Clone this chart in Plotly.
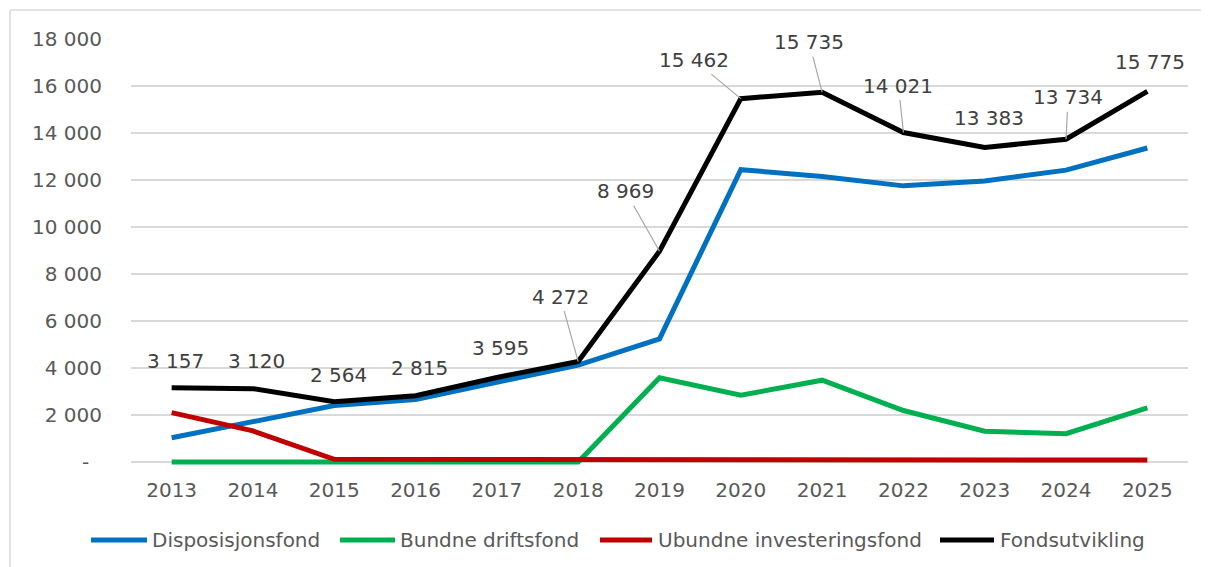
import plotly.graph_objects as go

years = ["2013", "2014", "2015", "2016", "2017", "2018", "2019",
         "2020", "2021", "2022", "2023", "2024", "2025"]
disposisjonsfond = [1030, 1730, 2400, 2660, 3400, 4120, 5240,
                    12440, 12150, 11750, 11960, 12420, 13360]
bundne_driftsfond = [0, 0, 0, 0, 0, 0, 3580, 2840, 3480, 2190, 1310, 1200, 2300]
ubundne_investeringsfond = [2100, 1320, 110, 110, 110, 110, 110, 110, 90, 80, 80, 80, 80]
fondsutvikling = [3157, 3120, 2564, 2815, 3595, 4272, 8969,
                  15462, 15735, 14021, 13383, 13734, 15775]

series_names = ["Disposisjonsfond", "Bundne driftsfond",
                "Ubundne investeringsfond", "Fondsutvikling"]
series_values = [disposisjonsfond, bundne_driftsfond,
                 ubundne_investeringsfond, fondsutvikling]
colors = ["#0070C0", "#00B050", "#C00000", "#000000"]

ytick_vals = list(range(0, 18001, 2000))
ytick_text = ["-\u00a0\u00a0"] + [f"{v // 1000} 000" for v in ytick_vals[1:]]

# label offsets (pixels, text centre relative to point) and leader-line flags
label_dx = [4, 4, 4, 4, 4, -18, -34, -47, -13, -5, 4, 2, 3]
label_dy = [-27, -28, -27, -28, -29, -65, -60, -39, -50, -47, -29, -42, -29]
label_leader = [False, False, False, False, False, True, True, True, True, True, False, True, False]

FONT = "DejaVu Sans"
FS = 20
OFF = 8  # page body margin
Y_MIN, Y_MAX = -300, 18000
W, H = 1209 - OFF, 567 - OFF
L, T = 131 - OFF, 39 - OFF
PW = 1057
PH = 423 * (Y_MAX - Y_MIN) / Y_MAX
R, B = W - L - PW, H - T - PH

def px_x(px):
    return (px - OFF - L) / PW

def px_y(py):
    return (T + PH - (py - OFF)) / PH

fig = go.Figure()
for name, vals, col in zip(series_names, series_values, colors):
    fig.add_trace(go.Scatter(
        x=years, y=vals, mode="lines", name=name,
        line=dict(color=col, width=5), showlegend=False,
    ))

annotations = []
for i, (v, dx, dy, lead) in enumerate(zip(fondsutvikling, label_dx, label_dy, label_leader)):
    txt = f"{v:,}".replace(",", " ")
    if lead:
        annotations.append(dict(
            x=i, y=v, xref="x", yref="y", text=txt, showarrow=True,
            ax=dx, ay=dy, arrowhead=0, arrowwidth=1.2, arrowcolor="#a6a6a6",
            standoff=0, borderpad=2,
            font=dict(family=FONT, size=FS, color="#404040"),
        ))
    else:
        annotations.append(dict(
            x=i, y=v, xref="x", yref="y", text=txt, showarrow=False,
            xshift=dx, yshift=-dy,
            font=dict(family=FONT, size=FS, color="#404040"),
        ))

# custom legend
legend_sym = [(91, 147), (340, 395), (600, 652), (940, 994)]
legend_txt_x = [150, 398, 656, 998]
legend_y = 540
shapes = []
for (x0, x1), tx, name, col in zip(legend_sym, legend_txt_x, series_names, colors):
    shapes.append(dict(type="line", xref="paper", yref="paper",
                       x0=px_x(x0), x1=px_x(x1), y0=px_y(legend_y), y1=px_y(legend_y),
                       line=dict(color=col, width=5)))
    annotations.append(dict(
        x=px_x(tx), y=px_y(legend_y), xref="paper", yref="paper", text=name,
        showarrow=False, xanchor="left", yanchor="middle",
        font=dict(family=FONT, size=FS, color="#595959"),
    ))

# outer chart border (left and top edges only are visible)
shapes.append(dict(type="line", xref="paper", yref="paper", layer="below",
                   x0=px_x(10), x1=px_x(1300), y0=px_y(10), y1=px_y(10),
                   line=dict(color="#d9d9d9", width=1.5)))
shapes.append(dict(type="line", xref="paper", yref="paper", layer="below",
                   x0=px_x(10), x1=px_x(10), y0=px_y(10), y1=px_y(640),
                   line=dict(color="#d9d9d9", width=1.5)))

fig.update_layout(
    width=W, height=H,
    margin=dict(l=L, r=R, t=T, b=B),
    paper_bgcolor="white", plot_bgcolor="white",
    font=dict(family=FONT, size=FS, color="#595959"),
    showlegend=False,
    annotations=annotations,
    shapes=shapes,
    xaxis=dict(type="category", range=[-0.5, 12.5], showgrid=False,
               showline=False, zeroline=False,
               ticks="outside", ticklen=3, tickcolor="rgba(0,0,0,0)",
               tickfont=dict(family=FONT, size=FS, color="#595959")),
    yaxis=dict(range=[Y_MIN, Y_MAX], tickvals=ytick_vals, ticktext=ytick_text,
               showgrid=True, gridcolor="#d9d9d9", gridwidth=1.5,
               zeroline=False, showline=False,
               ticks="outside", ticklen=24, tickcolor="rgba(0,0,0,0)",
               tickfont=dict(family=FONT, size=FS, color="#595959")),
)

fig.write_html("out.html")
